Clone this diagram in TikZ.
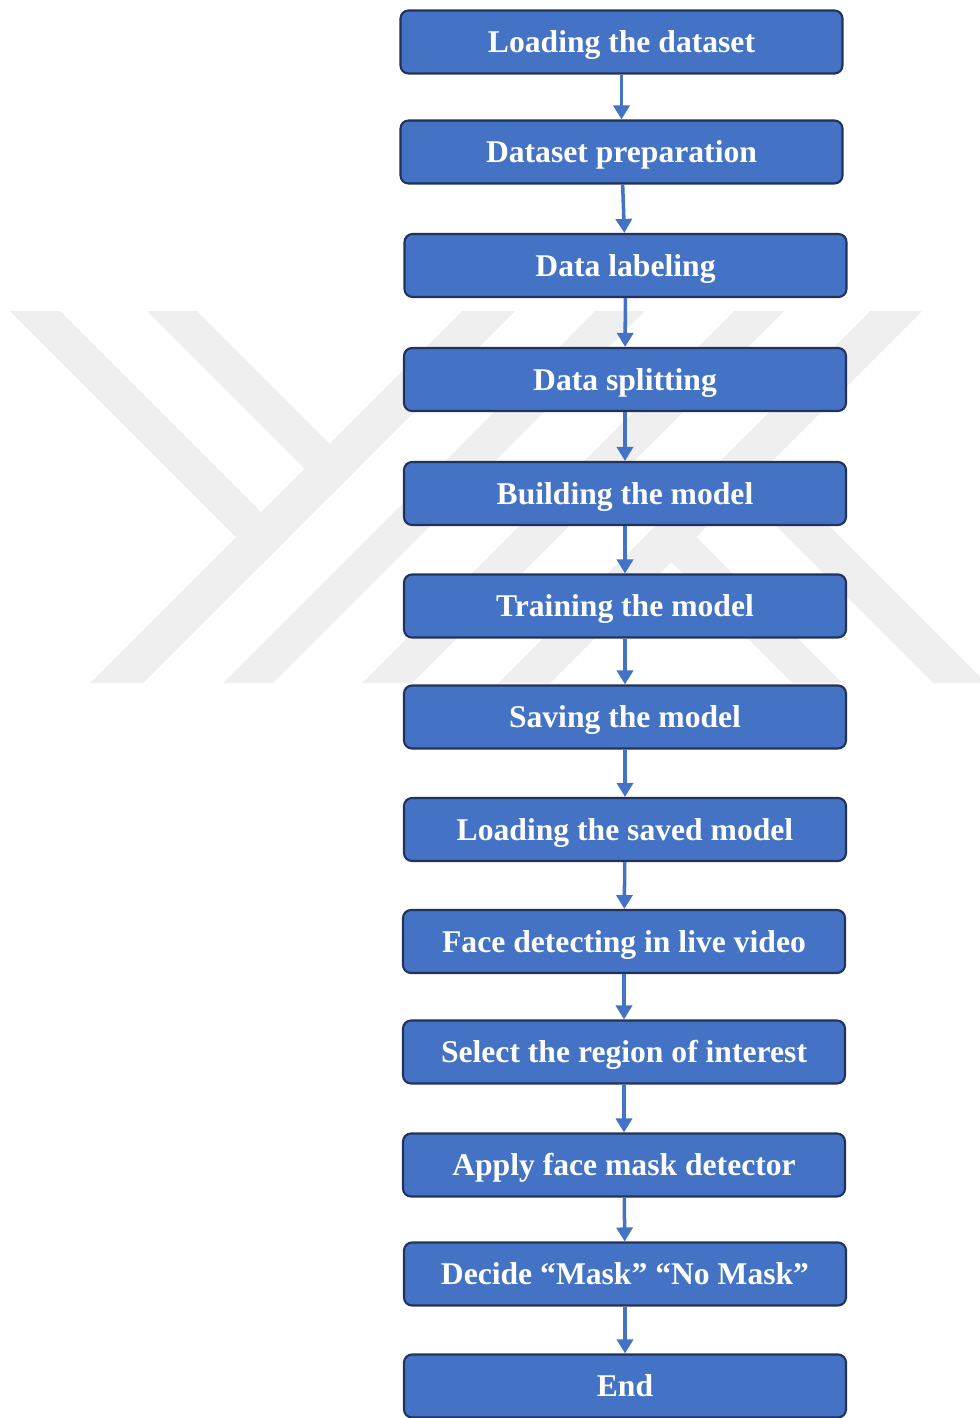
\documentclass[tikz,border=0pt]{standalone}
\usepackage{fontspec}
\setmainfont{Liberation Serif}
\usetikzlibrary{arrows.meta}
\definecolor{BoxBlue}{RGB}{68,114,196}
\definecolor{BoxEdge}{RGB}{34,50,90}
\definecolor{MarkGray}{RGB}{239,239,239}

\begin{document}
\begin{tikzpicture}[>={Triangle[width=0.32cm,length=0.28cm]},
  stage/.style={draw=BoxEdge,line width=1.2pt,rounded corners=0.16cm,fill=BoxBlue,text=white,
    font=\fontsize{18}{20}\selectfont\bfseries,text height=12pt,text depth=0pt,
    minimum width=8.84cm,minimum height=1.26cm},
  flow/.style={->,draw=BoxBlue,fill=BoxBlue,line width=2pt}]
\useasboundingbox (0,0) rectangle (19.6,-28.36);

% faint stripes behind the chart
\begin{scope}[x=0.02cm,y=-0.02cm]
\fill[MarkGray] (10,311) -- (60,311) -- (287.5,538.5) -- (262.5,563.5) -- cycle;
\fill[MarkGray] (147,311) -- (197,311) -- (356,470) -- (331,495) -- cycle;
\fill[MarkGray] (462,311) -- (515,311) -- (143,683) -- (90,683) -- cycle;
\fill[MarkGray] (595,311) -- (645,311) -- (273,683) -- (223,683) -- cycle;
\fill[MarkGray] (734,311) -- (784,311) -- (412,683) -- (362,683) -- cycle;
\fill[MarkGray] (870,311) -- (922,311) -- (550,683) -- (498,683) -- cycle;
\fill[MarkGray] (645,536) -- (670,511) -- (842,683) -- (792,683) -- cycle;
\fill[MarkGray] (715.5,465.5) -- (742,439) -- (986,683) -- (933,683) -- cycle;
\end{scope}

\node[stage] (load) at (12.43,-0.84) {Loading the dataset};
\node[stage] (prep) at (12.43,-3.04) {Dataset preparation};
\node[stage] (lab) at (12.51,-5.31) {Data labeling};
\node[stage] (split) at (12.50,-7.59) {Data splitting};
\node[stage] (build) at (12.50,-9.87) {Building the model};
\node[stage] (train) at (12.50,-12.12) {Training the model};
\node[stage] (save) at (12.50,-14.34) {Saving the model};
\node[stage] (reload) at (12.50,-16.59) {Loading the saved model};
\node[stage] (detect) at (12.48,-18.83) {Face detecting in live video};
\node[stage] (roi) at (12.48,-21.04) {Select the region of interest};
\node[stage] (apply) at (12.48,-23.30) {Apply face mask detector};
\node[stage] (decide) at (12.50,-25.48) {Decide “Mask” “No Mask”};
\node[stage] (fin) at (12.50,-27.72) {End};

\draw[flow] (load)--(prep);
\draw[flow] (prep)--(lab);
\draw[flow] (lab)--(split);
\draw[flow] (split)--(build);
\draw[flow] (build)--(train);
\draw[flow] (train)--(save);
\draw[flow] (save)--(reload);
\draw[flow] (reload)--(detect);
\draw[flow] (detect)--(roi);
\draw[flow] (roi)--(apply);
\draw[flow] (apply)--(decide);
\draw[flow] (decide)--(fin);
\end{tikzpicture}
\end{document}
